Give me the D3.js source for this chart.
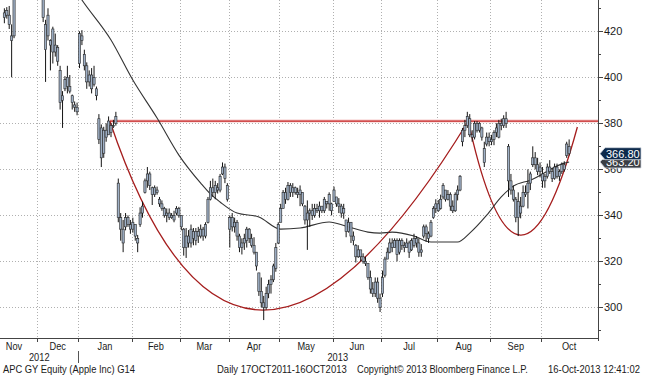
<!DOCTYPE html>
<html>
<head>
<meta charset="utf-8">
<script src="https://cdn.jsdelivr.net/npm/d3@7"></script>
<style>
body { margin: 0; background: #fff; }
text { font-family: "Liberation Sans", Arial, sans-serif; fill: #1a1a1a; }
</style>
</head>
<body>
<script>

// month labels and trading days per month (Nov 2012 .. Oct 2013)
var months = ["Nov", "Dec", "Jan", "Feb", "Mar", "Apr", "May", "Jun", "Jul", "Aug", "Sep", "Oct"];
var monthDays = [22, 17, 22, 20, 20, 21, 22, 20, 23, 22, 21, 23];
var novOffset = 8; // first bar shown is the 9th trading day of Nov

var years = ["2012", "2013"];

// daily bars [open, high, low, close], EUR
var barsNov = [[428,430,423.5,426],[429,430.5,425.5,427],[427,431,421,423],[418,423,400,416],[418,445,417,440],[440,446,435,441],[441,445,437,442],[442,446,439,444],[445,450,442,448],[449,457,446,456],[455,459,449,452],[451,455,444,454],[456,460,451,455],[454,456,449,451]];
var barsDec = [[452,455,445,447],[443,447,436,440],[440,441,424,426],[412,425,398,423],[427,430,416,418],[416,416.5,403,414],[411,422,406,421],[414,419,409,411],[413,414,405,407],[403,405,386,389],[390,394,378,392],[395,400.5,394,399],[400,405,393,396],[396,401,393,394],[392,392.5,386,389],[388,389.5,385,387],[387,389,383.5,385]];
var barsJan = [[406,420,404,419],[418,420.5,414,416],[410,412,403,405],[405,406.5,395,398],[398,403,396,401],[401,404,393,395],[397,405,396,400],[395,396,390,392],[382,384,371,373],[378,379.5,361,365],[367,378.5,365,377],[377,380,372,374],[375,383,375,381],[379,380,374,376],[379,381.5,378,379],[380,385,379,383],[354,356,337,339],[339,341,329,334],[334,338,324,328],[335,341,333.5,339],[339,340,335,336],[336,338,332,334]];
var barsFeb = [[334,339,332.5,337],[336,336,329,331],[330,331.5,324,328],[336,343.5,335,341],[341,346,339,344],[350,356,349.5,355],[355,361,352,358],[358,359,351,353],[352,352.5,344.5,349],[349,353,348,352],[351,352.5,349,350],[347,348,343.7,345],[345,346.5,342,343],[343,343.7,339,340],[340,343,337,341],[341,343,338,339],[339,341,338.5,340],[340,342,337,338],[341,344,340,343],[343,343.7,339,340]];
var barsMar = [[340,340,333.5,335],[334,334.5,322.5,326],[326,334.5,321.5,331],[331,333.6,326,328],[328,336,326,334],[333,334.5,327,330],[329,334.5,327,333],[333,335,328,331],[331,336,330,334],[334,335,329,331],[331,337,330,336],[337,348,336.5,347],[347,355,346.5,352],[352,356,348,350],[350,355,347,353],[352,354,349.5,351],[351,358,350,357],[358,363,357.5,361],[361,362.5,354,356],[353,354,346,347]];
var barsApr = [[339,340,326,334],[339,341,333,335],[335,339,332.5,337],[337,338,329,331],[331,332,324,326],[326,330,323,328],[328,332,325,330],[329,335,326,334],[334,334.5,328,330],[330,332,326,327],[327,330.5,323,324],[324,324,316,318],[315,315,305,307],[307,313,300,302],[302,305,294.5,300],[300,309,299,306],[306,312,304,310],[310,314,306,312],[312,319,311,318],[317,328,315.5,326],[328,337,327.5,336]];
var barsMay = [[337,345,337,343],[343,351,343,350],[350,352,345,347],[347,354.5,346.5,353],[353,354,348,350],[350,354,348,352],[352,352.5,349,350],[350,352,347.5,349],[349,353,344,351],[350,350,344,345],[344,344.5,336,338],[338,346.5,325,341],[341,343,335,342],[342,345,338,340],[340,345,339,343],[343,345,341,342],[342,346,339,344],[344,344,341,342],[342,348,341,347],[346,346,343,345],[345,350,342,349],[345,345.5,340,342]];
var barsJun = [[346,352.5,346,351],[348,348,343.7,345],[345,347.5,341,344],[344,345,339,341],[341,345,338.5,343],[338,338,330.5,333],[333,339,332.5,337],[337,337,328,331],[331,333,327,329],[327,327.5,319.5,322],[322,327,321.5,325],[325,325,320,322],[322,323.5,319,320],[320,322,318,319],[319,319,312,313],[313,316,306,308],[308,311,304.5,306],[306,313,304.5,311],[311,313,302,304],[304,306,298,300]];
var barsJul = [[306,316,304.5,313],[314,322,313,321],[321,326,321,324],[324,330,323.5,328],[328,330,324,326],[326,330,326,329],[329,330,320,323],[324,330,323,329],[329,330,325,327],[327,328.5,324,326],[326,330,326,328],[328,329,321.5,324],[325,330,324.5,329],[327,332,326,330],[330,331,326,328],[328,330,322,324],[324,327.5,322,325],[331,336,330,335],[335,336,328.5,332],[332,333,328,330],[331,338,330.5,337],[339,344,338.5,343],[343,347,341,345]];
var barsAug = [[345,346.7,341.5,342],[343,349,342.5,347],[348,354,347,353],[351,351,346,347],[347,351,346.5,349],[349,350,342,344],[344,346.5,341,342],[342,350,341.5,349],[349,353,346.5,351],[351,357.5,350.5,357],[372,378,370,377],[377,381.5,374,379],[379,385,378,383],[382,384,374,375],[375,377,372,374],[374,381,373,380],[380,381,376,377],[377,380.5,376,380],[378,378.5,372.5,374],[369,372,361,363],[371,376,370,374],[374,376,370,372]];
var barsSep = [[372,375,370.5,373],[373,377,370.5,376],[376,380,374,378],[374,381.5,373.5,380],[380,382,377,379],[379,383.5,378,382],[382,385,378,380],[370,371,348,355],[355,358,349,351],[351,353,346,347],[347,348,337,339],[339,350,331,346],[344,348,338.7,341],[344,353,343.5,350],[350,353,348,349],[350,360,343,354],[354,359,351,358],[362,370,361,365],[365,367.5,360,362],[362,365,357.5,359],[359,363,356.5,361]];
var barsOct = [[358,361,352,355],[355,358,352,357],[357,362.5,356,361],[361,364,358,359],[359,360.5,354.5,356],[356,362.5,355.5,361],[361,362.5,356,357],[357,360,355,359],[359,363,358,362],[362,363.5,359,360],[366,372,365,371],[370,373,366,366.8]];

// moving average (bar index, value)
var maIdx = [28,32,44,53,63,72,81,85,89,96,105,114,122,134,141,150,155,160,169,176,187,192,199,205,210,217,231,233];
var maVal = [440,433.6,416.2,398.8,382.3,366.2,354.0,349.3,345.8,341.0,339.3,334.0,334.5,337.1,335.3,332.7,332.3,332.7,331.0,328.4,328.4,332.3,340.1,348.0,352.7,355.3,362.7,363.2];

// hand drawn annotations: resistance level and two cups (start, control, end)
var resistance = 381;
var resistanceStart = 43.5;
var cupBig = [[43.5, 381], [96, 216.7], [191.4, 381]];
var cupSmall = [[191.4, 381], [211.8, 283.2], [236.4, 378.4]];

var lastPrice = 366.80;

var yMajor = [300, 320, 340, 360, 380, 400, 420];
var yMinor = [290, 310, 330, 350, 370, 390, 410, 430];

var W = 645, H = 376;
var plotR = 598, plotB = 338;

var bars = [].concat(barsNov, barsDec, barsJan, barsFeb, barsMar, barsApr,
  barsMay, barsJun, barsJul, barsAug, barsSep, barsOct);

// month boundaries in bar-index units
var starts = [];
var acc = -novOffset;
monthDays.forEach(function(n) { starts.push(acc - 0.5); acc += n; });
var endIdx = acc - 0.5;

var x = d3.scaleLinear().domain([-1.8, endIdx]).range([0, plotR - 1]);
var y = d3.scaleLinear().domain([286.7, 433.6]).range([plotB, 0]);

var svg = d3.select("body").append("svg")
    .attr("width", W)
    .attr("height", H)
    .style("display", "block");

svg.append("rect").attr("width", W).attr("height", H).attr("fill", "#fff");

svg.append("clipPath").attr("id", "plot")
  .append("rect").attr("x", 0).attr("y", 0).attr("width", plotR).attr("height", plotB);

var g = svg.append("g").attr("clip-path", "url(#plot)");

// grid
g.selectAll(".hg").data(yMajor).enter().append("line")
    .attr("x1", 0).attr("x2", plotR)
    .attr("y1", function(d) { return Math.round(y(d)) + 0.5; })
    .attr("y2", function(d) { return Math.round(y(d)) + 0.5; })
    .attr("stroke", "#b0b0b0").attr("stroke-dasharray", "1,2");

g.selectAll(".vg").data(starts.slice(1)).enter().append("line")
    .attr("y1", 0).attr("y2", plotB)
    .attr("x1", function(d) { return Math.round(x(d)) + 0.5; })
    .attr("x2", function(d) { return Math.round(x(d)) + 0.5; })
    .attr("stroke", "#b0b0b0").attr("stroke-dasharray", "1,2");

// resistance line with soft halo
[["#f6caca", 3], ["#c42525", 1.2]].forEach(function(s) {
  g.append("line")
    .attr("x1", x(resistanceStart)).attr("x2", plotR)
    .attr("y1", y(resistance)).attr("y2", y(resistance))
    .attr("stroke", s[0]).attr("stroke-width", s[1]);
});

// cups
[cupBig, cupSmall].forEach(function(c) {
  var p = d3.path();
  p.moveTo(x(c[0][0]), y(c[0][1]));
  p.quadraticCurveTo(x(c[1][0]), y(c[1][1]), x(c[2][0]), y(c[2][1]));
  g.append("path").attr("d", p.toString())
    .attr("fill", "none").attr("stroke", "#a51d1d").attr("stroke-width", 1.3);
});

// moving average
var ma = maIdx.map(function(d, i) { return [d, maVal[i]]; });
g.append("path").datum(ma)
    .attr("fill", "none").attr("stroke", "#333").attr("stroke-width", 1.1)
    .attr("d", d3.line()
      .x(function(d) { return x(d[0]); })
      .y(function(d) { return y(d[1]); })
      .curve(d3.curveMonotoneX));

// bars
var bw = 2.2;
var bar = g.selectAll(".bar").data(bars).enter().append("g");

bar.append("line")
    .attr("x1", function(d, i) { return x(i); })
    .attr("x2", function(d, i) { return x(i); })
    .attr("y1", function(d) { return y(d[1]); })
    .attr("y2", function(d) { return y(d[2]); })
    .attr("stroke", "#151515").attr("stroke-width", 1);

bar.append("rect")
    .attr("x", function(d, i) { return x(i) - bw / 2; })
    .attr("width", bw)
    .attr("y", function(d) { return y(Math.max(d[0], d[3])); })
    .attr("height", function(d) { return Math.max(0.8, Math.abs(y(d[0]) - y(d[3]))); })
    .attr("fill", "#9fb0c6").attr("stroke", "#262626").attr("stroke-width", 0.6);

// axes
var axisColor = "#444";
svg.append("line").attr("x1", 0).attr("x2", plotR).attr("y1", plotB + 0.5).attr("y2", plotB + 0.5)
    .attr("stroke", axisColor);
svg.append("line").attr("x1", plotR + 0.5).attr("x2", plotR + 0.5).attr("y1", 0).attr("y2", plotB + 3)
    .attr("stroke", axisColor);

svg.selectAll(".xt").data(starts.slice(1)).enter().append("line")
    .attr("x1", function(d) { return Math.round(x(d)) + 0.5; })
    .attr("x2", function(d) { return Math.round(x(d)) + 0.5; })
    .attr("y1", plotB).attr("y2", plotB + 4)
    .attr("stroke", axisColor);

svg.selectAll(".ymaj").data(yMajor).enter().append("line")
    .attr("x1", plotR).attr("x2", plotR + 5)
    .attr("y1", function(d) { return Math.round(y(d)) + 0.5; })
    .attr("y2", function(d) { return Math.round(y(d)) + 0.5; })
    .attr("stroke", axisColor);

svg.selectAll(".ymin").data(yMinor).enter().append("line")
    .attr("x1", plotR).attr("x2", plotR + 3)
    .attr("y1", function(d) { return Math.round(y(d)) + 0.5; })
    .attr("y2", function(d) { return Math.round(y(d)) + 0.5; })
    .attr("stroke", axisColor);

svg.selectAll(".yl").data(yMajor).enter().append("text")
    .attr("x", plotR + 6)
    .attr("y", function(d) { return y(d) + 4; })
    .style("font-size", "11px")
    .text(function(d) { return d; });

// month labels, squeezed a little like the Bloomberg font
svg.selectAll(".ml").data(months).enter().append("text")
    .attr("transform", function(d, i) {
      var a = x(starts[i]), b = i < months.length - 1 ? x(starts[i + 1]) : x(endIdx);
      return "translate(" + Math.max((a + b) / 2, 14) + ",350) scale(0.84,1)";
    })
    .attr("text-anchor", "middle")
    .style("font-size", "11px")
    .text(function(d) { return d; });

// year labels with separator at Jan
var janX = Math.round(x(starts[2])) + 0.5;
svg.append("line").attr("x1", janX).attr("x2", janX).attr("y1", 351).attr("y2", 363)
    .attr("stroke", "#555");
svg.selectAll(".yr").data(years).enter().append("text")
    .attr("transform", function(d, i) {
      var cx = i === 0 ? janX / 2 : (janX + x(endIdx)) / 2;
      return "translate(" + cx + ",361) scale(0.84,1)";
    })
    .attr("text-anchor", "middle")
    .style("font-size", "11px")
    .text(function(d) { return d; });

// value tags on the right; the MA tag sits partly behind the price tag
svg.append("clipPath").attr("id", "matag")
  .append("rect").attr("x", plotR).attr("y", y(lastPrice) + 6).attr("width", W - plotR).attr("height", 20);

function tag(v, fill, label, clip) {
  var ty = y(v);
  var t = svg.append("g");
  if (clip) t.attr("clip-path", "url(#" + clip + ")");
  t.append("path")
    .attr("d", "M" + (plotR + 2) + "," + ty + "L" + (plotR + 7) + "," + (ty - 6) +
      "L" + (W - 4) + "," + (ty - 6) + "L" + (W - 4) + "," + (ty + 6) +
      "L" + (plotR + 7) + "," + (ty + 6) + "Z")
    .attr("fill", fill).attr("stroke", "#d0d6de").attr("stroke-width", 0.8);
  t.append("text")
    .attr("x", plotR + 8).attr("y", ty + 4)
    .style("font-size", "11px").style("fill", "#fff")
    .text(label);
}
tag(maVal[maVal.length - 1], "#3a3e44", d3.format(".2f")(maVal[maVal.length - 1]), "matag");
tag(lastPrice, "#0d2a4c", d3.format(".2f")(lastPrice));

// footer: text squeezed horizontally to the width it has in the reference
var footer = [
  ["APC GY Equity (Apple Inc) G14", 3, 132],
  ["Daily 17OCT2011-16OCT2013", 217, 130],
  ["Copyright\u00a9 2013 Bloomberg Finance L.P.", 357, 171],
  ["16-Oct-2013 12:41:02", 548, 92]
];
svg.selectAll(".ft").data(footer).enter().append("text")
    .style("font-size", "11px")
    .text(function(d) { return d[0]; })
    .attr("transform", function(d) {
      var w = this.getComputedTextLength();
      return "translate(" + d[1] + ",373) scale(" + (d[2] / w) + ",1)";
    });

</script>
</body>
</html>
